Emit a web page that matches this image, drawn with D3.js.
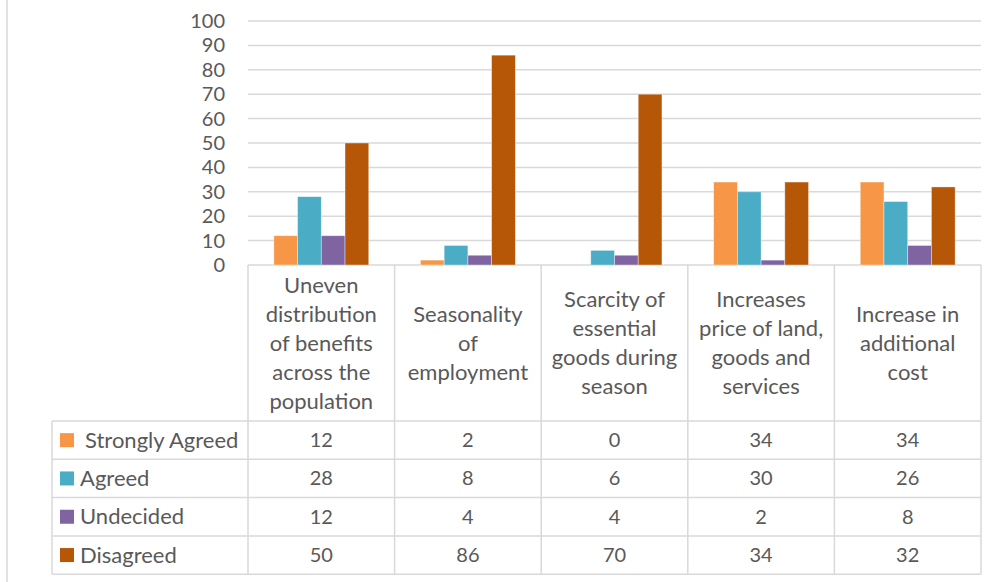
<!DOCTYPE html>
<html>
<head>
<meta charset="utf-8">
<script src="https://cdn.jsdelivr.net/npm/d3@7/dist/d3.min.js"></script>
<style>
  html, body { margin: 0; padding: 0; background: #fff; }
  svg { display: block; }
  text { font-family: Lato, "Open Sans", sans-serif; fill: #595959; }
</style>
</head>
<body>
<svg id="chart" width="1001" height="582"></svg>
<script>
// Survey responses per impact statement (percent)
const categories = [
  ["Uneven", "distribution", "of benefits", "across the", "population"],
  ["Seasonality", "of", "employment"],
  ["Scarcity of", "essential", "goods during", "season"],
  ["Increases", "price of land,", "goods and", "services"],
  ["Increase in", "additional", "cost"]
];
const seriesNames = ["Strongly Agreed", "Agreed", "Undecided", "Disagreed"];
const seriesColors = ["#F79646", "#4BACC6", "#8064A2", "#B65708"];
const strongAgreed = [12, 2, 0, 34, 34];
const agreed = [28, 8, 6, 30, 26];
const undecided = [12, 4, 4, 2, 8];
const disagreed = [50, 86, 70, 34, 32];
const yTicks = [0, 10, 20, 30, 40, 50, 60, 70, 80, 90, 100];

const seriesValues = [strongAgreed, agreed, undecided, disagreed];

const svg = d3.select("#chart");
const gridColor = "#d9d9d9";
const textSize = "22px";
const numSize = "20px";

// Outer chart frame edge on the left
svg.append("line")
  .attr("x1", 7).attr("x2", 7).attr("y1", 0).attr("y2", 582)
  .attr("stroke", gridColor).attr("stroke-width", 1.5);

const plotLeft = 248, plotRight = 981, plotTop = 21, plotBottom = 265;
const catIdx = categories.map((d, i) => i);

const x = d3.scaleBand().domain(catIdx).range([plotLeft, plotRight]).padding(0);
const xs = d3.scaleBand().domain(d3.range(seriesNames.length))
  .range([0, x.bandwidth()]).paddingInner(0).paddingOuter(1.09);
const y = d3.scaleLinear().domain([0, 100]).range([plotBottom, plotTop]);

// Horizontal gridlines
svg.append("g").selectAll("line").data(yTicks).join("line")
  .attr("x1", plotLeft).attr("x2", plotRight)
  .attr("y1", d => y(d)).attr("y2", d => y(d))
  .attr("stroke", gridColor).attr("stroke-width", 1.5);

// Y axis labels
const yAxis = d3.axisLeft(y).tickValues(yTicks).tickSize(0).tickPadding(0);
const yg = svg.append("g").attr("transform", `translate(225,0)`).call(yAxis);
yg.select(".domain").remove();
yg.selectAll("text")
  .style("font-family", "Lato, 'Open Sans', sans-serif")
  .style("font-size", numSize).attr("fill", "#595959");

// Bars
const groups = svg.append("g").selectAll("g").data(seriesValues).join("g")
  .attr("fill", (d, i) => seriesColors[i]);
groups.each(function (vals, si) {
  d3.select(this).selectAll("rect").data(vals).join("rect")
    .attr("x", (v, ci) => x(ci) + xs(si))
    .attr("width", xs.bandwidth())
    .attr("y", v => y(v))
    .attr("height", v => y(0) - y(v))
    .attr("stroke", "#ffffff").attr("stroke-opacity", 0.5).attr("stroke-width", 0.75);
});

// Data table
const tableLeft = 52;
const headerBottom = 421;
const rowH = 38.3;
const tableBottom = headerBottom + rowH * seriesNames.length;
const tg = svg.append("g");

// Column dividers through the category label area and the rows
x.domain().concat([categories.length]).forEach(ci => {
  const xx = ci < categories.length ? x(ci) : plotRight;
  tg.append("line").attr("x1", xx).attr("x2", xx)
    .attr("y1", plotBottom).attr("y2", tableBottom)
    .attr("stroke", gridColor).attr("stroke-width", 1.5);
});
tg.append("line").attr("x1", tableLeft).attr("x2", tableLeft)
  .attr("y1", headerBottom).attr("y2", tableBottom)
  .attr("stroke", gridColor).attr("stroke-width", 1.5);
d3.range(seriesNames.length + 1).forEach(r => {
  const yy = headerBottom + r * rowH;
  tg.append("line").attr("x1", tableLeft).attr("x2", plotRight)
    .attr("y1", yy).attr("y2", yy)
    .attr("stroke", gridColor).attr("stroke-width", 1.5);
});

// Category labels
const lineH = 29;
const headerMid = (plotBottom + headerBottom) / 2;
categories.forEach((lines, ci) => {
  const cx = x(ci) + x.bandwidth() / 2;
  const t = tg.append("text").attr("text-anchor", "middle")
    .style("font-size", textSize);
  lines.forEach((ln, li) => {
    t.append("tspan").attr("x", cx)
      .attr("y", headerMid + (li - (lines.length - 1) / 2) * lineH)
      .attr("dy", "0.35em").text(ln);
  });
});

// Legend keys and row values
seriesNames.forEach((name, si) => {
  const cy = headerBottom + si * rowH + rowH / 2;
  tg.append("rect").attr("x", 60).attr("y", cy - 7).attr("width", 14).attr("height", 14)
    .attr("fill", seriesColors[si]);
  tg.append("text").attr("x", si === 0 ? 85 : 80).attr("y", cy).attr("dy", "0.35em")
    .style("font-size", textSize).text(name);
  seriesValues[si].forEach((v, ci) => {
    tg.append("text").attr("x", x(ci) + x.bandwidth() / 2).attr("y", cy).attr("dy", "0.35em")
      .attr("text-anchor", "middle").style("font-size", numSize).text(v);
  });
});
</script>
</body>
</html>
